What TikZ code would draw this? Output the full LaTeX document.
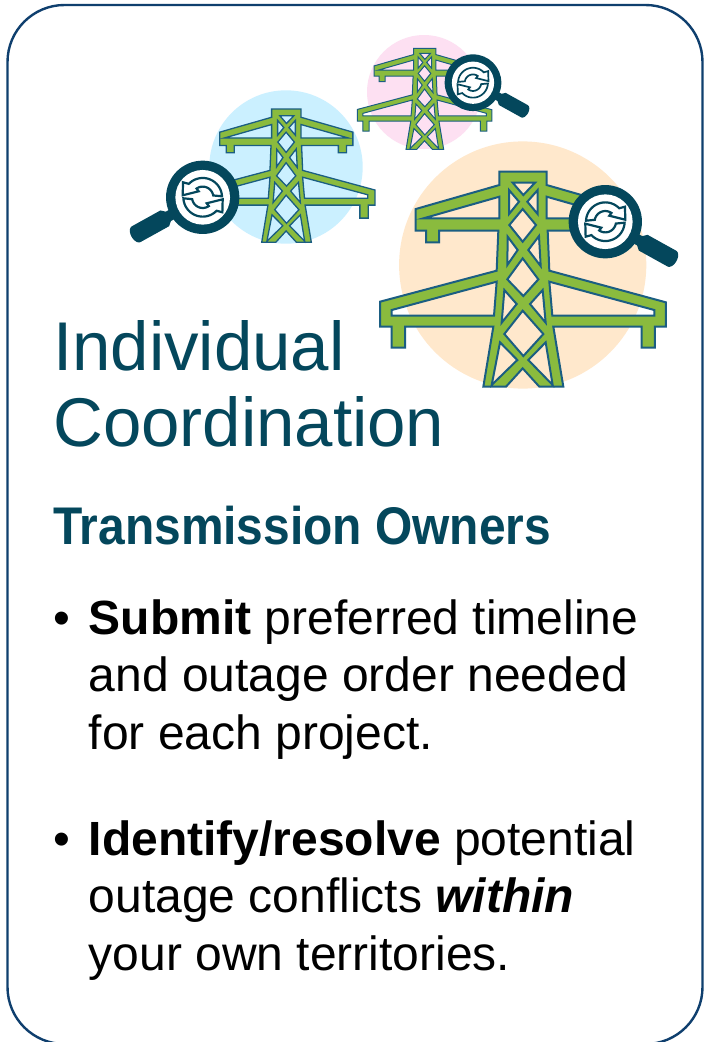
\documentclass[tikz,border=0pt]{standalone}
\usepackage{fontspec}
\setmainfont{Liberation Sans}
\newfontfamily\narrowfam[FakeStretch=0.904]{Liberation Sans}
\definecolor{frameblue}{HTML}{0F3F6E}
\definecolor{teal}{HTML}{04475C}
\definecolor{towergreen}{HTML}{8ABB3E}
\definecolor{towerline}{HTML}{1B5E82}
\definecolor{peach}{HTML}{FFE8CC}
\definecolor{skyb}{HTML}{CBF0FF}
\definecolor{pinkb}{HTML}{FDE0F2}
\tikzset{
  headtext/.style={anchor=base west,inner sep=0pt,text=teal,font=\fontsize{69}{69}\selectfont},
  subtext/.style={anchor=base west,inner sep=0pt,text=teal,font=\narrowfam\bfseries\fontsize{53}{53}\selectfont},
  bodytext/.style={anchor=base west,inner sep=0pt,text=black,font=\fontsize{48}{48}\selectfont},
  pics/tower/.style={code={
    \begin{scope}[shift={(-459,-95)}]
    \fill[towergreen,draw=towerline,even odd rule,line join=miter,line width=#1]
     (388,95)--(530,95)--(530,135)--(781,207)--(781,272)--(750,272)--(750,307)--(711,307)--(711,272)--(533,272)--(538,392)--(888,487)--(888,560)--(855,560)--(855,623)--(815,623)--(815,560)--(550,560)--(580,740)--(508,740)--(458,685)--(408,740)--(340,740)--(370,560)--(105,560)--(105,623)--(65,623)--(65,560)--(30,560)--(30,485)--(380,392)--(385,272)--(207,272)--(207,307)--(168,307)--(168,272)--(137,272)--(137,207)--(388,135)--cycle
     (388,170)--(160,235)--(388,235)--cycle
     (530,170)--(758,235)--(530,235)--cycle
     (380,425)--(65,510)--(65,527)--(372,527)--cycle
     (538,425)--(853,510)--(853,527)--(547,527)--cycle
     (428,128)--(495,128)--(460,165)--cycle
     (417,150)--(447,185)--(417,222)--cycle
     (503,150)--(472,185)--(503,222)--cycle
     (458,207)--(498,255)--(458,305)--(418,255)--cycle
     (413,290)--(443,330)--(412,375)--cycle
     (507,288)--(475,330)--(512,378)--cycle
     (458,355)--(505,418)--(460,468)--(412,418)--cycle
     (403,450)--(440,492)--(395,548)--cycle
     (518,450)--(480,492)--(527,548)--cycle
     (458,512)--(520,582)--(460,648)--(403,582)--cycle
     (390,607)--(442,660)--(365,735)--cycle
     (527,607)--(475,660)--(548,735)--cycle;
    \end{scope}
  }},
  pics/lens/.style={code={
    \begin{scope}[rotate=-29]
    \fill[teal] (100,-16) rectangle (140,16);
    \fill[teal] (118,-16) -- (130,-27) -- (228,-27) -- plot[domain=-90:90,samples=16] ({228+16*cos(\x)},{27*sin(\x)}) -- (130,27) -- (118,16) -- cycle;
    \end{scope}
    \fill[teal] (0,0) circle[radius=110];
    \fill[white] (0,0) circle[radius=82];
    \draw[teal,line width=#1,fill=white,line join=miter]
      plot[domain=183:316,samples=24] ({58*cos(\x)},{58*sin(\x)})
      -- (59,-45) -- (60,-6) -- (12,-18) 
      -- plot[domain=305:190,samples=20] ({32*cos(\x)},{32*sin(\x)}) -- cycle;
    \draw[teal,line width=#1,fill=white,line join=miter]
      plot[domain=3:136,samples=24] ({58*cos(\x)},{58*sin(\x)})
      -- (-59,45) -- (-60,6) -- (-12,18)
      -- plot[domain=125:10,samples=20] ({32*cos(\x)},{32*sin(\x)}) -- cycle;
  }}
}
\begin{document}
\begin{tikzpicture}[x=1pt,y=-1pt]
\useasboundingbox (0,0) rectangle (704,1042);
\fill[white] (0,0) rectangle (704,1042);
\begin{scope}
\clip (0,0) rectangle (704,1042);
\draw[frameblue,line width=2.4pt,rounded corners=57pt] (7.5,5) rectangle (702.5,1044);
\end{scope}
\coordinate (peachc) at (522.7,265);
\coordinate (skyc) at (286,167);
\coordinate (pinkc) at (424,92);
\fill[peach] (peachc) circle[radius=123.6];
\fill[skyb] (skyc) circle[radius=76.7];
\fill[pinkb] (pinkc) circle[radius=57];
\pic[shift={(424.7,48.3)},scale=.1567] {tower=1pt};
\pic[shift={(286.3,109)},scale=.2067] {tower=1.3pt};
\pic[shift={(523,171.7)},scale=.3333] {tower=2pt};
\pic[shift={(473,82.7)},scale=.2576] {lens=1.7pt};
\pic[shift={(202.7,197.3)},xscale=-.3333,yscale=.3333] {lens=2.2pt};
\pic[shift={(605.3,221.7)},scale=.3333] {lens=2.2pt};
\node[headtext] (t1) at (53,370) {Individual};
\node[headtext] (t2) at (53,446) {Coordination};
\node[subtext] (t3) at (53,544) {Transmission Owners};
\node[bodytext] (b1) at (53,634) {•};
\node[bodytext] (l1) at (88.5,634) {\textbf{Submit} preferred timeline};
\node[bodytext] (l2) at (88.5,691.5) {and outage order needed};
\node[bodytext] (l3) at (88.5,749) {for each project.};
\node[bodytext] (b2) at (53,855) {•};
\node[bodytext] (l4) at (88.5,855) {\textbf{Identify/resolve} potential};
\node[bodytext] (l5) at (88.5,912.5) {outage conflicts \textbf{\textit{within}}};
\node[bodytext] (l6) at (88.5,970) {your own territories.};
\end{tikzpicture}
\end{document}
